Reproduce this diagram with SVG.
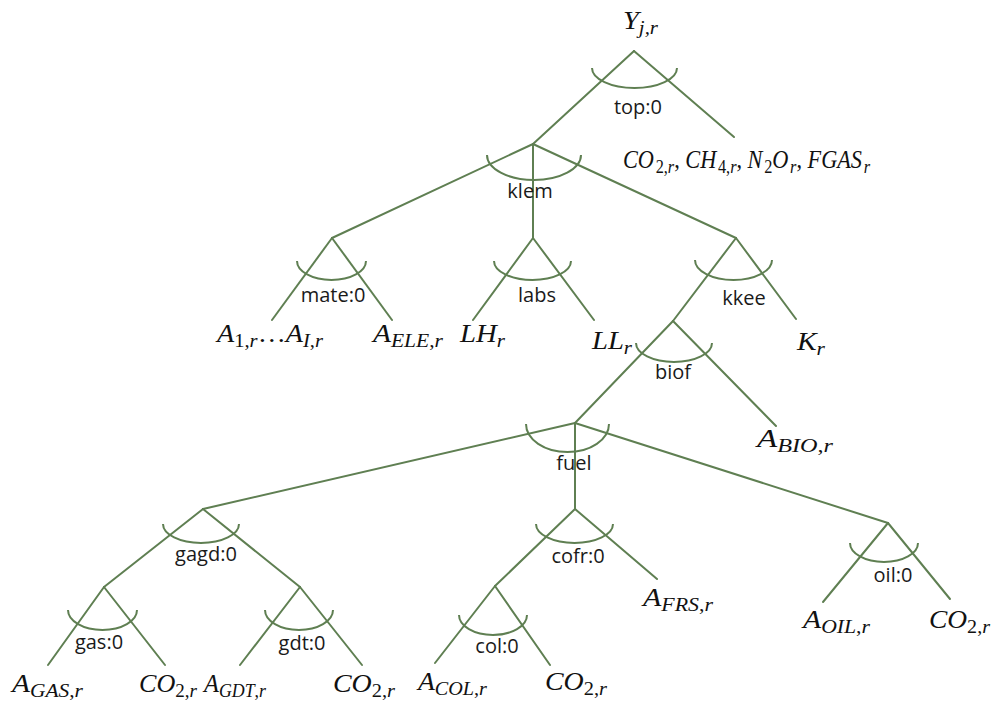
<svg xmlns="http://www.w3.org/2000/svg" width="992" height="704" viewBox="0 0 992 704">
  <style>
    .ln { stroke: #5f7f52; stroke-width: 2; fill: none; stroke-linecap: round; }
    .arc { stroke: #5f7f52; stroke-width: 2; fill: none; }
    .lbl { font-family: "Open Sans", "Liberation Sans", sans-serif; font-size: 20px; fill: #1a1a1a; text-anchor: middle; }
    .m { font-family: "Liberation Serif", "DejaVu Serif", serif; font-style: italic; font-size: 26px; fill: #111; }
    .s { font-size: 19px; }
    .u { font-style: normal; }
  </style>
  <rect width="992" height="704" fill="#ffffff"/>

  <!-- connectors of the nesting tree -->
  <g id="connectors">
    <line class="ln" x1="634" y1="51" x2="533" y2="144"/>
    <line class="ln" x1="634" y1="51" x2="734" y2="137"/>
    <line class="ln" x1="533" y1="144" x2="332" y2="238"/>
    <line class="ln" x1="533" y1="144" x2="533" y2="238"/>
    <line class="ln" x1="533" y1="144" x2="736" y2="238"/>
    <line class="ln" x1="332" y1="238" x2="272" y2="320"/>
    <line class="ln" x1="332" y1="238" x2="392" y2="320"/>
    <line class="ln" x1="533" y1="238" x2="473" y2="320"/>
    <line class="ln" x1="533" y1="238" x2="594" y2="320"/>
    <line class="ln" x1="736" y1="238" x2="673" y2="321"/>
    <line class="ln" x1="736" y1="238" x2="796" y2="319"/>
    <line class="ln" x1="673" y1="321" x2="575" y2="423"/>
    <line class="ln" x1="673" y1="321" x2="776" y2="426"/>
    <line class="ln" x1="575" y1="423" x2="203" y2="509"/>
    <line class="ln" x1="575" y1="423" x2="575" y2="509"/>
    <line class="ln" x1="575" y1="423" x2="888" y2="523"/>
    <line class="ln" x1="203" y1="509" x2="104" y2="587"/>
    <line class="ln" x1="203" y1="509" x2="300" y2="587"/>
    <line class="ln" x1="104" y1="587" x2="48" y2="665"/>
    <line class="ln" x1="104" y1="587" x2="165" y2="665"/>
    <line class="ln" x1="300" y1="587" x2="240" y2="665"/>
    <line class="ln" x1="300" y1="587" x2="362" y2="665"/>
    <line class="ln" x1="575" y1="509" x2="495" y2="586"/>
    <line class="ln" x1="575" y1="509" x2="657" y2="579"/>
    <line class="ln" x1="495" y1="586" x2="435" y2="663"/>
    <line class="ln" x1="495" y1="586" x2="550" y2="665"/>
    <line class="ln" x1="888" y1="523" x2="823" y2="602"/>
    <line class="ln" x1="888" y1="523" x2="950" y2="599"/>
  </g>

  <!-- nests: substitution arc with its name -->
  <g id="n-top">
    <path class="arc" d="M592,68 A42.5,20 0 0 0 677,68"/>
    <text class="lbl" x="638" y="114">top:0</text>
  </g>
  <g id="n-klem">
    <path class="arc" d="M487,155 A47,25 0 0 0 581,155"/>
    <text class="lbl" x="530" y="198">klem</text>
  </g>
  <g id="n-mate">
    <path class="arc" d="M297,261 A34.5,19 0 0 0 366,261"/>
    <text class="lbl" x="333" y="302">mate:0</text>
  </g>
  <g id="n-labs">
    <path class="arc" d="M494,261 A38.5,19 0 0 0 571,261"/>
    <text class="lbl" x="537" y="302">labs</text>
  </g>
  <g id="n-kkee">
    <path class="arc" d="M695,260 A38.5,20 0 0 0 772,260"/>
    <text class="lbl" x="744" y="305">kkee</text>
  </g>
  <g id="n-biof">
    <path class="arc" d="M636,343 A38,19 0 0 0 712,343"/>
    <text class="lbl" x="673" y="379">biof</text>
  </g>
  <g id="n-fuel">
    <path class="arc" d="M526,424 A41.5,28 0 0 0 609,424"/>
    <text class="lbl" x="574" y="470">fuel</text>
  </g>
  <g id="n-gagd">
    <path class="arc" d="M163,524 A38,19 0 0 0 239,524"/>
    <text class="lbl" x="206" y="561">gagd:0</text>
  </g>
  <g id="n-gas">
    <path class="arc" d="M68,610 A34.5,20 0 0 0 137,610"/>
    <text class="lbl" x="99" y="649">gas:0</text>
  </g>
  <g id="n-gdt">
    <path class="arc" d="M265,610 A34,20 0 0 0 333,610"/>
    <text class="lbl" x="302" y="650">gdt:0</text>
  </g>
  <g id="n-cofr">
    <path class="arc" d="M536,524 A38.5,19 0 0 0 613,524"/>
    <text class="lbl" x="578" y="563">cofr:0</text>
  </g>
  <g id="n-col">
    <path class="arc" d="M459,615 A34,20 0 0 0 527,615"/>
    <text class="lbl" x="497" y="653">col:0</text>
  </g>
  <g id="n-oil">
    <path class="arc" d="M850,543 A34,19 0 0 0 918,543"/>
    <text class="lbl" x="893" y="582">oil:0</text>
  </g>

  <!-- output and inputs -->
  <g id="out-y">
    <text class="m" x="623" y="29" textLength="35" lengthAdjust="spacingAndGlyphs">Y<tspan class="s" dy="5">j,r</tspan></text>
  </g>
  <g id="in-emis">
    <text class="m" x="623" y="168" textLength="247" lengthAdjust="spacingAndGlyphs">CO<tspan class="s" dx="2" dy="5"><tspan class="u">2,</tspan>r</tspan><tspan class="u" dy="-5">, </tspan>CH<tspan class="s" dx="2" dy="5"><tspan class="u">4,</tspan>r</tspan><tspan class="u" dy="-5">, </tspan>N<tspan class="s u" dx="2" dy="5">2</tspan><tspan dy="-5">O</tspan><tspan class="s" dx="2" dy="5">r</tspan><tspan class="u" dy="-5">, </tspan>FGAS<tspan class="s" dx="2" dy="5">r</tspan></text>
  </g>
  <g id="in-mat">
    <text class="m" x="217" y="342" textLength="106" lengthAdjust="spacingAndGlyphs">A<tspan class="s" dy="5"><tspan class="u">1,</tspan>r</tspan><tspan class="u" dy="-5">…</tspan>A<tspan class="s" dy="5">I<tspan class="u">,</tspan>r</tspan></text>
  </g>
  <g id="in-ele">
    <text class="m" x="373" y="342" textLength="70" lengthAdjust="spacingAndGlyphs">A<tspan class="s" dy="5">ELE<tspan class="u">,</tspan>r</tspan></text>
  </g>
  <g id="in-lh">
    <text class="m" x="460" y="342" textLength="45" lengthAdjust="spacingAndGlyphs">LH<tspan class="s" dy="5">r</tspan></text>
  </g>
  <g id="in-ll">
    <text class="m" x="592" y="349" textLength="40" lengthAdjust="spacingAndGlyphs">LL<tspan class="s" dy="5">r</tspan></text>
  </g>
  <g id="in-k">
    <text class="m" x="797" y="350" textLength="28" lengthAdjust="spacingAndGlyphs">K<tspan class="s" dy="5">r</tspan></text>
  </g>
  <g id="in-bio">
    <text class="m" x="757" y="447" textLength="76" lengthAdjust="spacingAndGlyphs">A<tspan class="s" dy="5">BIO<tspan class="u">,</tspan>r</tspan></text>
  </g>
  <g id="in-gas">
    <text class="m" x="12" y="692" textLength="71" lengthAdjust="spacingAndGlyphs">A<tspan class="s" dy="5">GAS<tspan class="u">,</tspan>r</tspan></text>
  </g>
  <g id="in-co2-gas">
    <text class="m" x="139" y="692" textLength="58" lengthAdjust="spacingAndGlyphs">CO<tspan class="s" dy="5"><tspan class="u">2,</tspan>r</tspan></text>
  </g>
  <g id="in-gdt">
    <text class="m" x="204" y="692" textLength="62" lengthAdjust="spacingAndGlyphs">A<tspan class="s" dy="5">GDT<tspan class="u">,</tspan>r</tspan></text>
  </g>
  <g id="in-co2-gdt">
    <text class="m" x="333" y="692" textLength="62" lengthAdjust="spacingAndGlyphs">CO<tspan class="s" dy="5"><tspan class="u">2,</tspan>r</tspan></text>
  </g>
  <g id="in-col">
    <text class="m" x="418" y="690" textLength="69" lengthAdjust="spacingAndGlyphs">A<tspan class="s" dy="5">COL<tspan class="u">,</tspan>r</tspan></text>
  </g>
  <g id="in-co2-col">
    <text class="m" x="545" y="690" textLength="62" lengthAdjust="spacingAndGlyphs">CO<tspan class="s" dy="5"><tspan class="u">2,</tspan>r</tspan></text>
  </g>
  <g id="in-frs">
    <text class="m" x="643" y="606" textLength="70" lengthAdjust="spacingAndGlyphs">A<tspan class="s" dy="5">FRS<tspan class="u">,</tspan>r</tspan></text>
  </g>
  <g id="in-oil">
    <text class="m" x="803" y="628" textLength="67" lengthAdjust="spacingAndGlyphs">A<tspan class="s" dy="5">OIL<tspan class="u">,</tspan>r</tspan></text>
  </g>
  <g id="in-co2-oil">
    <text class="m" x="929" y="628" textLength="61" lengthAdjust="spacingAndGlyphs">CO<tspan class="s" dy="5"><tspan class="u">2,</tspan>r</tspan></text>
  </g>
</svg>
